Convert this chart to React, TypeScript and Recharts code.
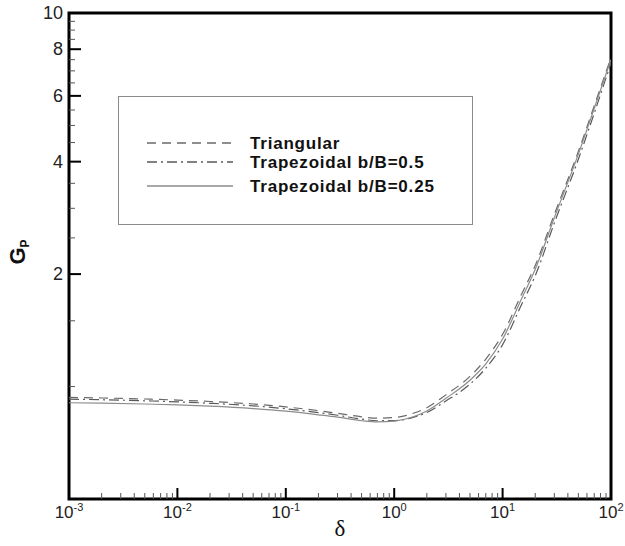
import React from 'react';
import {
  LineChart,
  Line,
  XAxis,
  YAxis,
  Legend,
  ReferenceArea
} from 'recharts';

// delta values (log spaced samples)
const deltaValues = [0.001, 0.002, 0.005, 0.01, 0.02, 0.05, 0.1, 0.2, 0.3, 0.5, 0.7, 1, 1.5, 2, 3, 5, 7, 10, 15, 20, 30, 50, 70, 100];

const triangularGp = [0.935, 0.932, 0.926, 0.92, 0.912, 0.898, 0.882, 0.862, 0.848, 0.83, 0.823, 0.826, 0.848, 0.878, 0.95, 1.065, 1.185, 1.38, 1.77, 2.11, 2.89, 4.26, 5.64, 7.6];
const trapezoid05Gp = [0.925, 0.922, 0.916, 0.91, 0.902, 0.888, 0.872, 0.852, 0.838, 0.818, 0.81, 0.811, 0.827, 0.852, 0.915, 1.015, 1.12, 1.295, 1.66, 1.98, 2.74, 4.06, 5.39, 7.35];
const trapezoid025Gp = [0.905, 0.903, 0.898, 0.893, 0.886, 0.873, 0.859, 0.84, 0.828, 0.81, 0.804, 0.808, 0.83, 0.86, 0.93, 1.04, 1.15, 1.34, 1.72, 2.06, 2.83, 4.19, 5.55, 7.5];

const seriesNames = ['Triangular', 'Trapezoidal b/B=0.5', 'Trapezoidal b/B=0.25'];

const yTicks = [1, 1.5, 2, 2.5, 3, 3.5, 4, 4.5, 5, 5.5, 6, 6.5, 7, 7.5, 8, 8.5, 9, 9.5, 10];
const yLabels = [2, 4, 6, 8, 10];
const xDecades = [0.001, 0.01, 0.1, 1, 10, 100];
const xMinorSteps = [2, 3, 4, 5, 6, 7, 8, 9];

const xTicks: number[] = [];
xDecades.forEach((d, i) => {
  xTicks.push(d);
  if (i < xDecades.length - 1) xMinorSteps.forEach(m => xTicks.push(+(d * m).toPrecision(3)));
});

const chartData = deltaValues.map((delta, i) => ({
  delta,
  tri: triangularGp[i],
  trap05: trapezoid05Gp[i],
  trap025: trapezoid025Gp[i]
}));

const lineStyles = [
  { key: 'tri', stroke: '#6a6a6a', dash: '9 6' },
  { key: 'trap05', stroke: '#5a5a5a', dash: '10 4 2 4' },
  { key: 'trap025', stroke: '#8c8c8c', dash: undefined }
];

const FONT = '"Liberation Sans", Arial, sans-serif';

const YTick = (props: any) => {
  const { x, y, payload } = props;
  const major = yLabels.includes(payload.value);
  return (
    <g>
      <line x1={x} x2={x + (major ? 12 : 6)} y1={y} y2={y} stroke={major ? '#000' : '#555'} strokeWidth={major ? 2 : 1} />
      {major && (
        <text x={x - 6} y={y} dy={6} textAnchor="end" fontSize={18} fontFamily={FONT} fill="#222">
          {payload.value}
        </text>
      )}
    </g>
  );
};

const XTick = (props: any) => {
  const { x, y, payload } = props;
  const lg = Math.log10(payload.value);
  const exp = Math.round(lg);
  const major = Math.abs(lg - exp) < 1e-6;
  return (
    <g>
      <line x1={x} x2={x} y1={y} y2={y - (major ? 11 : 6)} stroke={major ? '#000' : '#555'} strokeWidth={major ? 2 : 1} />
      {major && (
        <text x={x} y={y + 19} textAnchor="middle" fontSize={17} fontFamily={FONT} fill="#222">
          <tspan>10</tspan>
          <tspan dy={-7} fontSize={11}>{exp}</tspan>
        </text>
      )}
    </g>
  );
};

const YLabel = () => (
  <text x={25} y={252} transform="rotate(-90, 25, 252)" textAnchor="middle" fontFamily={FONT} fontWeight="bold" fill="#111">
    <tspan fontSize={22}>G</tspan>
    <tspan fontSize={12} dy={4}>P</tspan>
  </text>
);

const LegendBox = () => {
  const rowY = [47, 66, 90];
  return (
    <svg width={355} height={129}>
      <rect x={0.5} y={0.5} width={354} height={128} fill="#fff" stroke="#8a8a8a" strokeWidth={1} />
      {seriesNames.map((name, i) => (
        <g key={name}>
          <line x1={29} x2={115} y1={rowY[i]} y2={rowY[i]} stroke={lineStyles[i].stroke} strokeWidth={1.3} strokeDasharray={lineStyles[i].dash} />
          <text x={132} y={rowY[i]} dy={6} fontSize={17} letterSpacing={0.8} fontWeight="bold" fontFamily={FONT} fill="#111">
            {name}
          </text>
        </g>
      ))}
    </svg>
  );
};

export default function App() {
  return (
    <div style={{ position: 'absolute', left: 0, top: 0 }}>
      <LineChart width={625} height={546} data={chartData} margin={{ top: 13, right: 14, bottom: 0, left: 0 }}>
        <XAxis
          dataKey="delta"
          type="number"
          scale="log"
          domain={[0.001, 100]}
          ticks={xTicks}
          interval={0}
          allowDataOverflow
          height={47}
          tickSize={0}
          tickMargin={0}
          tickLine={false}
          axisLine={false}
          tick={<XTick />}
          label={{ value: 'δ', position: 'insideBottom', offset: 10, fontSize: 23, fontFamily: '"Liberation Serif", serif', fill: '#111' }}
        />
        <YAxis
          type="number"
          scale="log"
          domain={[0.5, 10]}
          ticks={yTicks}
          interval={0}
          allowDataOverflow
          width={69}
          tickSize={0}
          tickMargin={0}
          tickLine={false}
          axisLine={false}
          tick={<YTick />}
          label={{ content: () => <YLabel /> }}
        />
        <ReferenceArea x1={0.001} x2={100} y1={0.5} y2={10} fill="none" stroke="#000" strokeWidth={3} />
        {lineStyles.map((s, i) => (
          <Line
            key={s.key}
            dataKey={s.key}
            name={seriesNames[i]}
            type="monotone"
            stroke={s.stroke}
            strokeWidth={1.2}
            strokeDasharray={s.dash}
            dot={false}
            isAnimationActive={false}
          />
        ))}
        <Legend
          layout="vertical"
          align="center"
          verticalAlign="middle"
          wrapperStyle={{ left: 118, top: 96, width: 355, height: 129 }}
          content={() => <LegendBox />}
        />
      </LineChart>
    </div>
  );
}
